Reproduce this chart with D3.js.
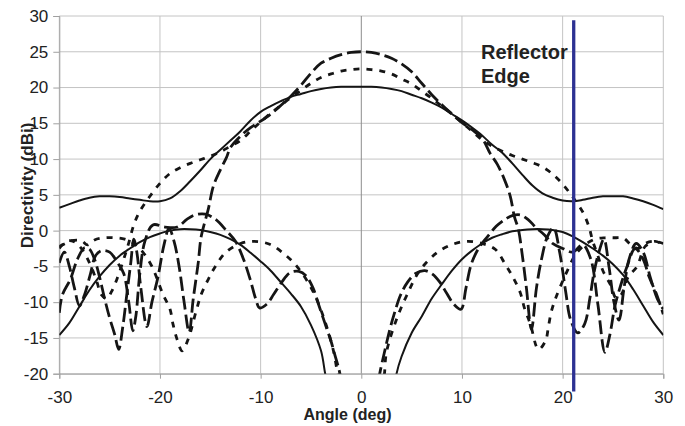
<!DOCTYPE html>
<html>
<head>
<meta charset="utf-8">
<script src="https://cdn.jsdelivr.net/npm/d3@7"></script>
<style>
body { margin: 0; background: #fff; }
svg { display: block; font-family: "Liberation Sans", Arial, sans-serif; }
</style>
</head>
<body>
<div id="chart"></div>
<script>
// tick values
var xTicks = [-30, -20, -10, 0, 10, 20, 30];
var yTicks = [-20, -15, -10, -5, 0, 5, 10, 15, 20, 25, 30];
var edgeAngle = 21.1;

// co-pol, solid (20 dBi case)
var coSolid = [[-30,3.2],[-29,3.7],[-28,4.2],[-27,4.6],[-26,4.8],[-25,4.8],[-24,4.7],[-23,4.5],[-22,4.3],[-21,4.1],[-20,4.1],[-19,4.5],[-18,5.5],[-17,6.9],[-16,8.4],[-15,10.0],[-14,11.3],[-13,12.6],[-12,13.9],[-11,15.4],[-10,16.6],[-9,17.4],[-8,18.1],[-7,18.7],[-6,19.1],[-5,19.5],[-4,19.8],[-3,20.0],[-2,20.1],[-1,20.1],[0,20.1],[1,20.1],[2,20.0],[3,19.8],[4,19.5],[5,19.0],[6,18.5],[7,17.9],[8,17.2],[9,16.3],[10,15.4],[11,14.4],[12,13.3],[13,12.0],[14,10.9],[15,9.4],[16,7.8],[17,6.3],[18,5.2],[19,4.6],[20,4.2],[21,4.1],[22,4.3],[23,4.6],[24,4.8],[25,4.8],[26,4.8],[27,4.5],[28,4.1],[29,3.6],[30,3.0]];

// cross-pol, solid
var xSolid = [[-30,-14.6],[-29,-12.9],[-28,-10.6],[-27,-8.3],[-26,-6.4],[-25,-4.8],[-24,-3.5],[-23,-2.5],[-22,-1.6],[-21,-0.9],[-20,-0.4],[-19,0.0],[-18,0.2],[-17,0.2],[-16,0.1],[-15,-0.2],[-14,-0.6],[-13,-1.2],[-12,-2.0],[-11,-3.1],[-10,-4.3],[-9,-5.6],[-8,-7.2],[-7,-8.8],[-6,-10.6],[-5,-13.2],[-4,-16.8],[-3.6,-19.9],[-3.3,-22],null,
  [3.3,-22],[3.5,-20],[4,-17.6],[5,-14.3],[6,-12.0],[7,-9.5],[8,-7.5],[9,-5.6],[10,-4.0],[11,-2.8],[12,-1.8],[13,-1.0],[14,-0.5],[15,-0.1],[16,0.1],[17,0.2],[18,0.2],[19,0.1],[20,-0.2],[21,-0.8],[22,-1.6],[23,-2.5],[24,-3.5],[25,-4.7],[26,-6.2],[27,-8.2],[28,-10.5],[29,-12.8],[30,-14.6]];

// co-pol, long dash (25 dBi case)
var coLong = [[-30,-11.5],[-29.7,-9],[-28.9,-6.8],[-28.2,-4],[-27.5,-2.4],[-27,-2.6],[-26.5,-4],[-26,-6.5],[-25.5,-9.5],[-25,-12.2],[-24.5,-14.5],[-24.1,-16.6],[-23.7,-13.5],[-23.3,-9],[-22.9,-4.5],[-22.6,-1.2],[-22.3,-3],[-21.9,-8],[-21.3,-13.4],[-20.8,-10],[-20.2,-6.5],[-19.6,-2],[-19.1,0.3],[-18.6,-1.5],[-18.1,-5],[-17.6,-10],[-17.1,-14.2],[-16.7,-9.6],[-16.2,-4.5],[-15.9,-0.8],[-15.2,3],[-14.7,6.2],[-14,8.5],[-13.4,10.2],[-13,11.6],[-12,13.2],[-11,14.4],[-10,15.3],[-9,16.3],[-8,17.5],[-7,18.8],[-6,20.3],[-5,22.0],[-4,23.4],[-3,24.1],[-2,24.6],[-1,24.9],[0,25],
  [1,24.9],[2,24.6],[3,24.1],[4,23.3],[5,22.2],[6,20.6],[7,19.0],[8,17.6],[9,16.3],[10,15.1],[11,14.1],[12,12.9],[12.8,10.8],[13.5,9.3],[14.2,7.2],[14.8,4.8],[15.2,2.0],[15.6,0.2],[16,-3.5],[16.4,-8],[16.9,-13.8],[17.4,-8],[17.9,-4],[18.5,-0.8],[19.1,0.4],[19.7,-3],[20.3,-8.5],[20.8,-12.5],[21.5,-14.3],[22.2,-13],[22.7,-9.5],[23.1,-6],[23.6,-3],[24.1,-1.2],[24.6,-5],[25.1,-10],[25.6,-12.5],[26.1,-8],[26.6,-4],[27.3,-1.8],[28,-3],[28.7,-6.5],[29.4,-9.5],[30,-11]];

// cross-pol, long dash
var xLong = [[-30,-4.5],[-29.5,-3],[-29,-5],[-28.5,-8],[-28,-10.5],[-27.5,-9],[-26.9,-6],[-26.4,-3.5],[-25.8,-2.8],[-25,-3],[-24.2,-4.5],[-23.6,-6],[-23.1,-10],[-22.7,-14],[-22.4,-12],[-22,-6],[-21.5,-1.5],[-20.7,0.8],[-19.5,0.5],[-18.3,0.5],[-17.3,1.6],[-16.5,2.2],[-15.5,2.3],[-14.5,1.6],[-13.4,0],[-12.5,-1.5],[-11.7,-4],[-11,-7],[-10.5,-9.5],[-10.1,-10.8],[-9.4,-10.3],[-8.7,-8.9],[-7.9,-7.2],[-7.1,-5.9],[-6.2,-5.7],[-5.5,-6.3],[-4.8,-8],[-4.2,-10.5],[-3.6,-13],[-3,-15.5],[-2.6,-17.5],[-2.2,-19.5],[-2,-21],null,
  [1.7,-21],[1.9,-19.5],[2.3,-17],[2.8,-14],[3.3,-11.5],[3.9,-9],[4.6,-7.2],[5.4,-6],[6.3,-5.6],[7.1,-6.1],[7.8,-7.2],[8.5,-8.8],[9.2,-10.3],[9.9,-11],[10.4,-8],[10.9,-4.8],[11.6,-2.6],[12.5,-0.9],[13.4,0.6],[14.2,1.5],[15,2.1],[15.8,2.2],[16.6,1.5],[17.3,0.5],[18.2,-0.6],[19,-1.8],[20,-2.5],[21,-3],[22,-2],[22.8,-4],[23.5,-10.3],[24.2,-17],[24.7,-14.5],[25.2,-10.5],[25.8,-7.5],[26.4,-5],[27.2,-2.5],[28,-4],[28.6,-6.5],[29.3,-8.8],[30,-11.7]];

// co-pol, short dash (22.5 dBi case)
var coDash = [[-30,-2.5],[-29.3,-1.5],[-28.6,-1.5],[-27.8,-2.5],[-27,-4.5],[-26.3,-7],[-25.8,-9],[-25.3,-9.5],[-24.8,-8.5],[-24.2,-6.5],[-23.6,-4],[-23.1,-1.7],[-22.6,0.8],[-22,2.7],[-21,4.8],[-20,6.6],[-19,8.0],[-18,8.8],[-17,9.4],[-16,9.9],[-15,10.4],[-14,11.0],[-13,11.8],[-12,12.6],[-11,13.9],[-10,15.2],[-9,16.4],[-8,17.5],[-7,18.6],[-6,19.6],[-5,20.6],[-4,21.4],[-3,21.9],[-2,22.3],[-1,22.5],[0,22.6],
  [1,22.5],[2,22.3],[3,21.9],[4,21.2],[5,20.5],[6,19.5],[7,18.5],[8,17.4],[9,16.3],[10,15.1],[11,13.9],[12,12.7],[13,11.8],[14,11.1],[15,10.5],[16,10.0],[17,9.5],[18,8.9],[19,7.9],[20,6.5],[21,4.7],[22,2.6],[22.6,0.6],[23,-1.5],[23.5,-3.5],[24,-5.6],[24.8,-7.7],[25.3,-9.4],[25.8,-9],[26.5,-6.5],[27.4,-5],[28.2,-2.2],[29.2,-1.5],[30,-2]];

// cross-pol, short dash
var xDash = [[-30,-2.2],[-29.4,-1.8],[-28.8,-1.4],[-27.8,-1.4],[-27.2,-2],[-26.5,-1.3],[-25.5,-1.0],[-24.5,-1.0],[-23.5,-1.2],[-22.6,-1.8],[-21.7,-3],[-20.8,-5],[-19.7,-8.9],[-19.0,-11],[-18.7,-13.1],[-18.3,-15.2],[-17.8,-16.8],[-17.2,-15.2],[-16.4,-11.2],[-15.9,-8.9],[-15.2,-6.8],[-14.5,-5],[-13.5,-3.1],[-12,-1.8],[-10.7,-1.5],[-9.1,-1.9],[-7.8,-3.1],[-6.4,-5],[-4.9,-8.2],[-3.8,-11.9],[-2.8,-16.6],[-2.3,-20.5],[-2.1,-22],null,
  [2.1,-22],[2.3,-20],[2.5,-17],[3.5,-12.4],[4.5,-9.1],[5.8,-5.6],[7.5,-3.1],[9.1,-1.9],[10.5,-1.5],[12,-1.8],[13.3,-2.6],[14.3,-4.7],[15.1,-6.6],[15.8,-8.7],[16.2,-10.8],[16.8,-13.1],[17.6,-16.6],[18.3,-15.4],[18.6,-13.3],[18.9,-11.2],[19.4,-9.1],[20.6,-5.2],[21.3,-3.3],[22.2,-2],[23.2,-1.2],[24.2,-1],[25.2,-1],[26,-1],[26.8,-2],[27.5,-2.5],[28.2,-1.8],[29,-1.5],[30,-1.8]];

var width = 685, height = 426;
var plotLeft = 59.3, plotRight = 663.3, plotTop = 16, plotBottom = 373.7;

var x = d3.scaleLinear().domain([-30, 30]).range([plotLeft, plotRight]);
var y = d3.scaleLinear().domain([-20, 30]).range([plotBottom, plotTop]);

var svg = d3.select("#chart").append("svg").attr("width", width).attr("height", height);

// grid
svg.append("g").selectAll("line").data(yTicks).enter().append("line")
    .attr("x1", plotLeft).attr("x2", plotRight)
    .attr("y1", function(d) { return y(d); }).attr("y2", function(d) { return y(d); })
    .style("stroke", "#c4c4c4").style("stroke-width", 1);
svg.append("g").selectAll("line").data(xTicks).enter().append("line")
    .attr("x1", function(d) { return x(d); }).attr("x2", function(d) { return x(d); })
    .attr("y1", plotTop).attr("y2", plotBottom)
    .style("stroke", function(d) { return d == 0 ? "#8c8c8c" : "#c4c4c4"; })
    .style("stroke-width", 1);

// axes
var fmt = function(d) { return String(d); };
svg.append("g").attr("transform", "translate(" + plotLeft + ",0)")
    .call(d3.axisLeft(y).tickValues(yTicks).tickSize(6).tickPadding(5).tickFormat(fmt));
svg.append("g").attr("transform", "translate(0," + plotBottom + ")")
    .call(d3.axisBottom(x).tickValues(xTicks).tickSize(5).tickPadding(12).tickFormat(fmt));
svg.selectAll(".domain").style("stroke", "#a0a0a0");
svg.selectAll(".tick line").style("stroke", "#a0a0a0");
svg.selectAll(".tick text").style("font-size", "17px").style("fill", "#222")
    .style("font-family", "'Liberation Sans', Arial, sans-serif");

// curves
svg.append("clipPath").attr("id", "plotclip").append("rect")
    .attr("x", plotLeft).attr("y", plotTop)
    .attr("width", plotRight - plotLeft).attr("height", plotBottom - plotTop);

var line = d3.line()
    .defined(function(d) { return d !== null; })
    .x(function(d) { return x(d[0]); })
    .y(function(d) { return y(d[1]); })
    .curve(d3.curveCatmullRom.alpha(0.5));

var series = [
    { data: coSolid, dash: null, w: 2 },
    { data: xSolid, dash: null, w: 2 },
    { data: coDash, dash: "6,7", w: 2.8 },
    { data: xDash, dash: "6,7", w: 2.8 },
    { data: coLong, dash: "14,5", w: 2.8 },
    { data: xLong, dash: "14,5", w: 2.8 }
];

var curves = svg.append("g").attr("clip-path", "url(#plotclip)");
series.forEach(function(s) {
    curves.append("path")
        .attr("d", line(s.data))
        .style("fill", "none")
        .style("stroke", "#151515")
        .style("stroke-width", s.w)
        .style("stroke-dasharray", s.dash);
});

// reflector edge marker
svg.append("line")
    .attr("x1", x(edgeAngle)).attr("x2", x(edgeAngle))
    .attr("y1", y(29.4)).attr("y2", y(-22.5))
    .style("stroke", "#2d3192").style("stroke-width", 3.3);

svg.append("text").attr("x", 481).attr("y", 59)
    .style("font-size", "20px").style("font-weight", "bold").style("fill", "#222")
    .text("Reflector");
svg.append("text").attr("x", 481).attr("y", 82.5)
    .style("font-size", "20px").style("font-weight", "bold").style("fill", "#222")
    .text("Edge");

// axis titles
svg.append("text").attr("x", 347.5).attr("y", 420)
    .attr("text-anchor", "middle")
    .style("font-size", "16px").style("font-weight", "bold").style("fill", "#222")
    .text("Angle (deg)");
svg.append("text").attr("transform", "translate(33,185.5) rotate(-90)")
    .attr("text-anchor", "middle")
    .style("font-size", "17px").style("font-weight", "bold").style("fill", "#222")
    .text("Directivity (dBi)");
</script>
</body>
</html>
